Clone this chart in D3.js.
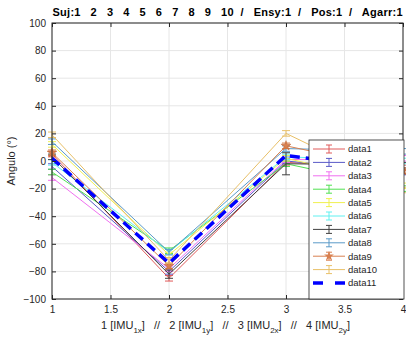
<!DOCTYPE html>
<html lang="en">
    <head>
        <meta charset="utf-8">
        <title>Angulo</title>
        <script src="https://d3js.org/d3.v7.min.js" charset="utf-8"></script>
        <style>
            body {
              margin: 0;
              background: #fff;
              font-family: "Liberation Sans", Arial, sans-serif;
            }
            .axis text {
              font-size: 10px;
              fill: #262626;
            }
            .grid line {
              stroke: #e6e6e6;
            }
        </style>
    </head>
    <body>
    	<div id="chart"></div>
    	<script type="text/javascript">
            // datos
            var xs = [1, 2, 3, 4];
            var names = ["data1", "data2", "data3", "data4", "data5", "data6", "data7", "data8", "data9", "data10", "data11"];
            var values = [
                [5, -85, -1, -5],
                [-4, -80, 0, -8],
                [-12, -78, 1, 2],
                [-8, -65, -2, -20],
                [12, -68, 2, -18],
                [-1, -66, 3, 0],
                [3, -82, -2, -3],
                [14, -66, 9, 7],
                [6, -76, 11, -7],
                [19, -72, 20, -21],
                [2, -74, 4, -7]
            ];
            var errors = [
                [2, 2, 2, 2],
                [2, 2, 2, 2],
                [2, 2, 2, 2],
                [2, 2, 2, 2],
                [2, 2, 2, 2],
                [2, 2, 2, 2],
                [2, 3, 8, 2],
                [2, 2, 2, 2],
                [2, 2, 2, 2],
                [2, 2, 2, 2],
                null
            ];
            var colors = ["#e05a5a", "#5a5ac8", "#f070f0", "#50e050", "#f0f050", "#60f0f0", "#404040", "#5a9ac8", "#d88050", "#e8c068", "#0000ff"];
            var xTicks = [1, 1.5, 2, 2.5, 3, 3.5, 4];
            var yTicks = [-100, -80, -60, -40, -20, 0, 20, 40, 60, 80, 100];
            var titulo = "Suj:1   2   3   4   5   6   7   8   9   10  /   Ensy:1  /   Pos:1  /   Agarr:1";

            var margin = {top: 23, right: 3, bottom: 40, left: 52};
            var W = 406, H = 339;
            var width = W - margin.left - margin.right,
                height = H - margin.top - margin.bottom;

            var svg = d3.select("#chart").append("svg")
                .attr("width", W)
                .attr("height", H);
            var g = svg.append("g")
                .attr("transform", "translate(" + margin.left + "," + margin.top + ")");

            var xScale = d3.scaleLinear().domain([1, 4]).range([0, width]);
            var yScale = d3.scaleLinear().domain([-100, 100]).range([height, 0]);

            // grid
            g.append("g").attr("class", "grid")
                .selectAll("line.v").data(xTicks).enter().append("line")
                .attr("x1", xScale).attr("x2", xScale)
                .attr("y1", 0).attr("y2", height);
            g.append("g").attr("class", "grid")
                .selectAll("line.h").data(yTicks).enter().append("line")
                .attr("x1", 0).attr("x2", width)
                .attr("y1", yScale).attr("y2", yScale);

            // lineas con barras de error
            var line = d3.line()
                .x(function(d) { return xScale(d.x); })
                .y(function(d) { return yScale(d.y); });

            var series = names.map(function(n, i) {
                return {
                    name: n, color: colors[i], err: errors[i],
                    pts: xs.map(function(x, j) { return {x: x, y: values[i][j], e: errors[i] ? errors[i][j] : 0}; })
                };
            });

            var cap = 4;
            series.forEach(function(s, i) {
                var sg = g.append("g");
                var dashed = s.name === "data11";
                sg.append("path")
                    .attr("d", line(s.pts))
                    .attr("fill", "none")
                    .attr("stroke", s.color)
                    .attr("stroke-width", dashed ? 3.5 : 1)
                    .attr("stroke-dasharray", dashed ? "10,6" : null);
                if (s.err) {
                    s.pts.forEach(function(p) {
                        var cx = xScale(p.x), y1 = yScale(p.y + p.e), y2 = yScale(p.y - p.e);
                        sg.append("line").attr("x1", cx).attr("x2", cx).attr("y1", y1).attr("y2", y2)
                            .attr("stroke", s.color);
                        sg.append("line").attr("x1", cx - cap).attr("x2", cx + cap).attr("y1", y1).attr("y2", y1)
                            .attr("stroke", s.color);
                        sg.append("line").attr("x1", cx - cap).attr("x2", cx + cap).attr("y1", y2).attr("y2", y2)
                            .attr("stroke", s.color);
                    });
                }
                if (s.name === "data9") {
                    sg.selectAll("path.star").data(s.pts).enter().append("path")
                        .attr("d", d3.symbol().type(d3.symbolStar).size(30))
                        .attr("transform", function(d) { return "translate(" + xScale(d.x) + "," + yScale(d.y) + ")"; })
                        .attr("fill", s.color)
                        .attr("stroke", "#c06030")
                        .attr("stroke-width", 0.5);
                }
            });

            // ejes
            var axCol = "#262626";
            g.append("g").attr("class", "axis")
                .attr("transform", "translate(0," + height + ")")
                .call(d3.axisBottom(xScale).tickValues(xTicks).tickSize(-4).tickPadding(7).tickFormat(d3.format("")))
                .call(function(a) { a.select(".domain").remove(); a.selectAll("line").attr("stroke", axCol); });
            g.append("g").attr("class", "axis")
                .call(d3.axisTop(xScale).tickValues(xTicks).tickSize(-4).tickFormat(""))
                .call(function(a) { a.select(".domain").remove(); a.selectAll("line").attr("stroke", axCol); });
            g.append("g").attr("class", "axis")
                .call(d3.axisLeft(yScale).tickValues(yTicks).tickSize(-4).tickPadding(6))
                .call(function(a) { a.select(".domain").remove(); a.selectAll("line").attr("stroke", axCol); });
            g.append("g").attr("class", "axis")
                .attr("transform", "translate(" + width + ",0)")
                .call(d3.axisRight(yScale).tickValues(yTicks).tickSize(-4).tickFormat(""))
                .call(function(a) { a.select(".domain").remove(); a.selectAll("line").attr("stroke", axCol); });
            g.append("rect")
                .attr("width", width).attr("height", height)
                .attr("fill", "none").attr("stroke", axCol).attr("stroke-width", 1);

            // titulo
            svg.append("text")
                .attr("x", margin.left + width / 2)
                .attr("y", 16)
                .attr("text-anchor", "middle")
                .attr("font-size", "11px")
                .attr("font-weight", "bold")
                .attr("fill", "#000")
                .style("white-space", "pre")
                .attr("textLength", 350)
                .attr("lengthAdjust", "spacing")
                .text(titulo);

            // etiqueta eje y
            svg.append("text")
                .attr("transform", "translate(15," + (margin.top + height / 2) + ") rotate(-90)")
                .attr("text-anchor", "middle")
                .attr("font-size", "11px")
                .attr("fill", axCol)
                .text("Angulo (°)");

            // etiqueta eje x con subindices
            var xl = svg.append("text")
                .attr("x", margin.left + width / 2 - 2)
                .attr("y", 329)
                .attr("text-anchor", "middle")
                .attr("font-size", "11px")
                .attr("fill", axCol)
                .style("white-space", "pre");
            var partes = [["1 [IMU", "1x", "]   //   "], ["2 [IMU", "1y", "]   //   "], ["3 [IMU", "2x", "]   //   "], ["4 [IMU", "2y", "]"]];
            partes.forEach(function(p) {
                xl.append("tspan").text(p[0]);
                xl.append("tspan").attr("dy", 4).attr("font-size", "8px").text(p[1]);
                xl.append("tspan").attr("dy", -4).text(p[2]);
            });

            // leyenda
            var lx = 309, ly = 140, lw = 95, lh = 159, step = 13.4;
            svg.append("rect")
                .attr("x", lx).attr("y", ly).attr("width", lw).attr("height", lh)
                .attr("fill", "#fff").attr("stroke", "#262626").attr("stroke-width", 0.8);
            var leyenda = svg.selectAll(".leyenda")
                .data(series)
                .enter()
                .append("g")
                .attr("class", "leyenda")
                .attr("transform", function(d, i) { return "translate(" + lx + "," + (ly + 9 + i * step) + ")"; });
            leyenda.append("line")
                .attr("x1", 4).attr("x2", 36).attr("y1", 0).attr("y2", 0)
                .attr("stroke", function(d) { return d.color; })
                .attr("stroke-width", function(d) { return d.name === "data11" ? 3.5 : 1; })
                .attr("stroke-dasharray", function(d) { return d.name === "data11" ? "10,12" : null; });
            leyenda.filter(function(d) { return d.err; }).each(function(d) {
                var lg = d3.select(this);
                lg.append("line").attr("x1", 20).attr("x2", 20).attr("y1", -4).attr("y2", 4).attr("stroke", d.color);
                lg.append("line").attr("x1", 17).attr("x2", 23).attr("y1", -4).attr("y2", -4).attr("stroke", d.color);
                lg.append("line").attr("x1", 17).attr("x2", 23).attr("y1", 4).attr("y2", 4).attr("stroke", d.color);
            });
            leyenda.filter(function(d) { return d.name === "data9"; })
                .append("path")
                .attr("d", d3.symbol().type(d3.symbolStar).size(30))
                .attr("transform", "translate(20,0)")
                .attr("fill", function(d) { return d.color; });
            leyenda.append("text")
                .attr("x", 39)
                .attr("y", 0)
                .attr("dy", ".35em")
                .attr("font-size", "9.5px")
                .attr("fill", "#262626")
                .text(function(d) { return d.name; });
    	</script>
    </body>
</html>
